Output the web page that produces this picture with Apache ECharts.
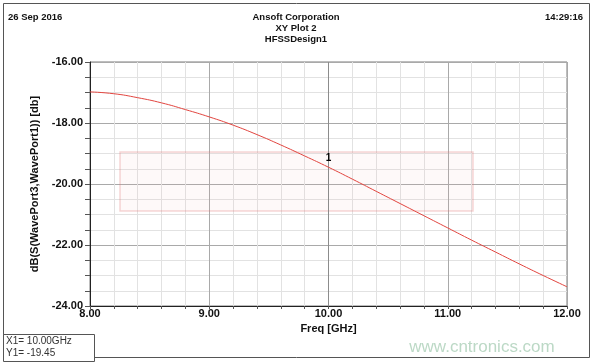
<!DOCTYPE html>
<html>
<head>
<meta charset="utf-8">
<script src="https://cdn.jsdelivr.net/npm/echarts@6/dist/echarts.min.js"></script>
<style>
  html, body { margin: 0; padding: 0; background: #fff; }
  #chart { width: 592px; height: 362px; }
</style>
</head>
<body>
<div id="chart"></div>
<script>
// frequency points (GHz) and S31 in dB
var freqs = [8.0, 8.2, 8.4, 8.6, 8.8, 9.0, 9.2, 9.4, 9.6, 9.8, 10.0,
             10.2, 10.4, 10.6, 10.8, 11.0, 11.2, 11.4, 11.6, 11.8, 12.0];
var dbValues = [-16.98, -17.04, -17.17, -17.34, -17.56, -17.80, -18.07, -18.38, -18.72, -19.08, -19.45,
                -19.84, -20.24, -20.64, -21.04, -21.44, -21.84, -22.23, -22.62, -23.00, -23.37];
var headerTexts = ['26 Sep 2016', 'Ansoft Corporation', 'XY Plot 2', 'HFSSDesign1', '14:29:16'];
var markerX = 10.00, markerY = -19.45;
var markerLines = ['X1= 10.00GHz', 'Y1= -19.45'];

var myChart = echarts.init(document.getElementById('chart'));
var font = '"Liberation Sans", Arial, sans-serif';

var lineData = freqs.map(function(f, i) { return [f, dbValues[i]]; });

function isMultiple(v, step) {
    var r = v / step;
    return Math.abs(r - Math.round(r)) < 1e-6;
}

var minor = '#e2e2e2', major = '#a9a9a9';

var option = {
    backgroundColor: '#fff',
    animation: false,
    textStyle: { fontFamily: font },
    grid: {
        left: 90, right: 25, top: 62, bottom: 56,
        show: true, borderColor: '#7a7a7a', borderWidth: 1
    },
    xAxis: {
        type: 'value',
        min: 8, max: 12, interval: 0.2,
        name: 'Freq [GHz]',
        nameLocation: 'middle',
        nameGap: 17,
        nameTextStyle: { color: '#111', fontWeight: 'bold', fontSize: 11 },
        axisLine: { show: true, onZero: false, lineStyle: { color: '#222', width: 1 } },
        axisTick: { show: true, length: 3, lineStyle: { color: '#555' } },
        axisLabel: {
            color: '#111', fontWeight: 'bold', fontSize: 11, margin: 2,
            showMinLabel: true, showMaxLabel: true,
            formatter: function(v) { return isMultiple(v, 1) ? v.toFixed(2) : ''; }
        },
        splitLine: { show: true, lineStyle: { color: [major, minor, minor, minor, minor], width: 1 } }
    },
    yAxis: {
        type: 'value',
        min: -24, max: -16, interval: 0.5,
        name: 'dB(S(WavePort3,WavePort1)) [db]',
        nameLocation: 'middle',
        nameGap: 42,
        nameTextStyle: { color: '#111', fontWeight: 'bold', fontSize: 11 },
        axisLine: { show: true, onZero: false, lineStyle: { color: '#222', width: 1 } },
        axisTick: { show: true, length: 5, lineStyle: { color: '#555' } },
        axisLabel: {
            color: '#111', fontWeight: 'bold', fontSize: 11, margin: 7,
            showMinLabel: true, showMaxLabel: true,
            formatter: function(v) { return isMultiple(v, 2) ? v.toFixed(2) : ''; }
        },
        splitLine: { show: true, lineStyle: { color: [major, minor, minor, minor], width: 1 } }
    },
    series: [{
        type: 'line',
        data: lineData,
        smooth: true,
        showSymbol: false,
        lineStyle: { color: '#e2453f', width: 1 },
        markLine: {
            silent: true,
            symbol: 'none',
            label: { show: false },
            lineStyle: { color: '#8c8c8c', width: 1, type: 'solid' },
            data: [{ xAxis: markerX }]
        },
        markPoint: {
            symbol: 'circle',
            symbolSize: 1,
            itemStyle: { color: '#e2453f' },
            label: {
                show: true, position: 'top', distance: 3,
                formatter: '1', color: '#000', fontSize: 10, fontWeight: 'bold'
            },
            data: [{ coord: [markerX, markerY] }]
        }
    }],
    graphic: [
        // outer frame
        { type: 'rect', shape: { x: 3.5, y: 3.5, width: 586, height: 354 },
          style: { fill: 'none', stroke: '#555', lineWidth: 1 }, z: 0 },
        // header
        { type: 'text', left: 8, top: 12,
          style: { text: headerTexts[0], font: 'bold 9.5px ' + font, fill: '#111' } },
        { type: 'text', x: 296, y: 17,
          style: { text: headerTexts[1], font: 'bold 9.5px ' + font, fill: '#111', align: 'center', verticalAlign: 'middle' } },
        { type: 'text', x: 296, y: 28,
          style: { text: headerTexts[2], font: 'bold 9.5px ' + font, fill: '#111', align: 'center', verticalAlign: 'middle' } },
        { type: 'text', x: 296, y: 39,
          style: { text: headerTexts[3], font: 'bold 9.5px ' + font, fill: '#111', align: 'center', verticalAlign: 'middle' } },
        { type: 'text', x: 583, y: 17,
          style: { text: headerTexts[4], font: 'bold 9.5px ' + font, fill: '#111', align: 'right', verticalAlign: 'middle' } },
        // faint watermark box in the plot
        { type: 'rect', shape: { x: 120, y: 152, width: 353, height: 59 },
          style: { fill: 'rgba(240,180,180,0.08)', stroke: 'rgba(225,120,120,0.3)', lineWidth: 1.5 }, z: 1 },
        // marker readout box
        { type: 'rect', shape: { x: 3.5, y: 334.5, width: 91, height: 27 },
          style: { fill: '#fff', stroke: '#555', lineWidth: 1 }, z: 5 },
        { type: 'text', x: 6, y: 341, z: 6,
          style: { text: markerLines[0], font: '10px ' + font, fill: '#333', verticalAlign: 'middle' } },
        { type: 'text', x: 6, y: 353, z: 6,
          style: { text: markerLines[1], font: '10px ' + font, fill: '#333', verticalAlign: 'middle' } },
        // site watermark
        { type: 'text', x: 482, y: 347, z: 6,
          style: { text: 'www.cntronics.com', font: '17px ' + font, fill: '#bcd9c6', align: 'center', verticalAlign: 'middle' } }
    ]
};

myChart.setOption(option);
</script>
</body>
</html>
